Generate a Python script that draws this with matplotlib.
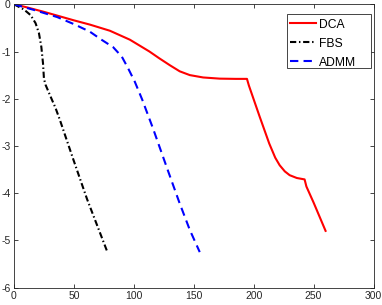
import matplotlib
matplotlib.use("Agg")
import matplotlib.pyplot as plt
from matplotlib.patches import Rectangle

# DCA (red, solid)
dca_x = [0, 10, 25, 41.7, 50, 63.3, 80, 96.7, 113, 121, 130, 138.3, 146.7, 157.8, 171.7, 185, 194.4,
         196, 205, 213, 218, 221.7, 226, 230, 236, 242.5, 244, 250, 260]
dca_y = [0, -0.06, -0.16, -0.28, -0.34, -0.43, -0.56, -0.75, -1.0, -1.14, -1.29, -1.42, -1.50, -1.55, -1.575, -1.58, -1.58,
         -1.72, -2.38, -2.95, -3.25, -3.41, -3.54, -3.62, -3.68, -3.71, -3.86, -4.2, -4.8]

# FBS (black, dash-dot)
fbs_x = [0, 8.3, 13.9, 18, 20.8, 22.8, 24.2, 25, 26.4, 30.6, 34.7, 38.3, 49.4, 61, 77.8]
fbs_y = [0, -0.11, -0.23, -0.40, -0.61, -0.90, -1.25, -1.58, -1.71, -1.96, -2.2, -2.45, -3.28, -4.13, -5.24]

# ADMM (blue, dashed)
admm_x = [0, 16.7, 36, 50, 63.3, 73, 82.8, 90, 95.3, 100.8, 107, 116, 127, 138, 146.7, 155]
admm_y = [0, -0.12, -0.27, -0.42, -0.58, -0.75, -0.91, -1.11, -1.36, -1.64, -2.02, -2.63, -3.42, -4.2, -4.78, -5.25]

xticks = [0, 50, 100, 150, 200, 250, 300]
yticks = [0, -1, -2, -3, -4, -5, -6]
ytick_labels = ["0", "-1", "-2", "-3", "-4", "-5", "-6"]

plt.rcParams['font.family'] = ['Liberation Sans', 'DejaVu Sans']
fig = plt.figure(figsize=(3.82, 3.05), dpi=100)
ax = fig.add_axes([14/382, (305-287.5)/305, (373.5-14)/382, (287.5-4.3)/305])

ax.plot(dca_x, dca_y, color=(1, 0, 0), lw=1.5, ls='-', label='DCA')
ax.plot(fbs_x, fbs_y, color='k', lw=1.5, ls=(0, (3, 1.3, 0.7, 1.3)), label='FBS')
ax.plot(admm_x, admm_y, color=(0, 0, 1), lw=1.5, ls=(0, (4, 2.5)), label='ADMM')

ax.set_xlim(0, 300)
ax.set_ylim(-6, 0)
ax.set_xticks(xticks)
ax.set_yticks(yticks)
ax.set_yticklabels(ytick_labels)
ax.tick_params(direction='in', top=True, right=True, length=3, width=0.6,
               labelsize=7.5, colors='#262626', pad=2.5)
for s in ax.spines.values():
    s.set_color('#262626')
    s.set_linewidth(0.6)

# legend box drawn at the reference location
ax.add_patch(Rectangle((0.759, 0.774), 0.9917 - 0.759, 0.9657 - 0.774, transform=ax.transAxes,
                       facecolor='white', edgecolor='#262626', lw=0.6, zorder=4))
leg = ax.legend(loc='upper left', bbox_to_anchor=(0.759, 0.962), fontsize=8.7, frameon=False,
                handlelength=2.1, handletextpad=0.25, labelspacing=0.58, borderpad=0.3,
                borderaxespad=0)
leg.set_zorder(5)

fig.savefig('out.png', dpi=100)
